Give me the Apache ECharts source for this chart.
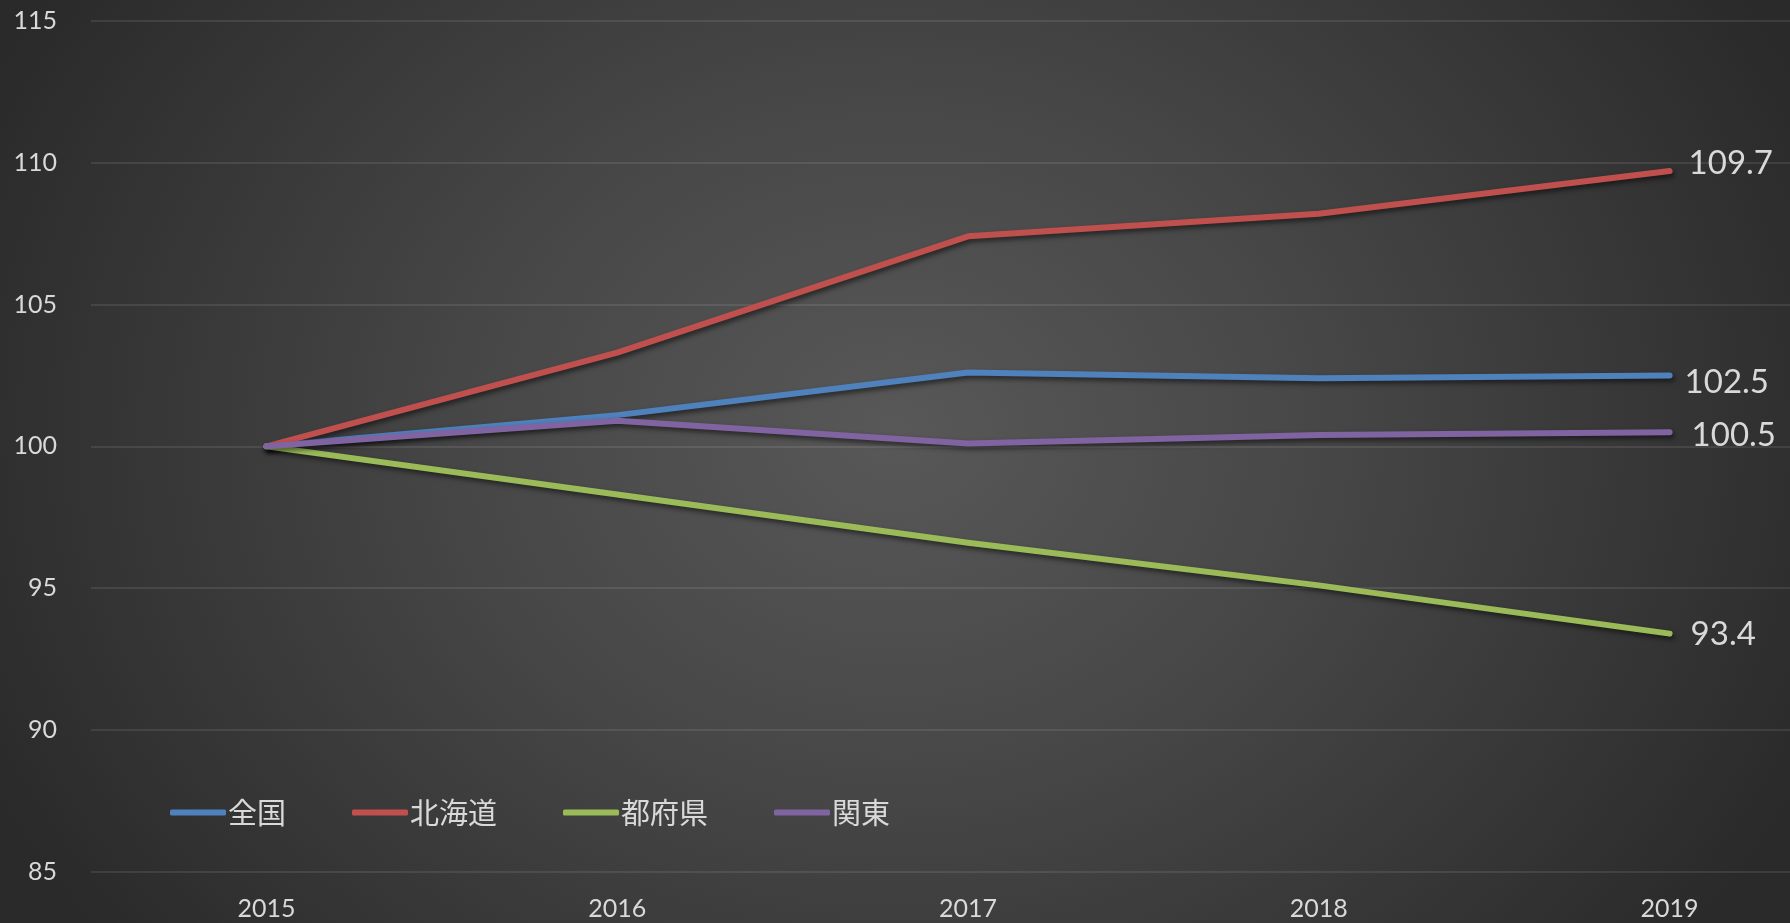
<!DOCTYPE html>
<html>
<head>
<meta charset="utf-8">
<script src="https://cdn.jsdelivr.net/npm/echarts@6/dist/echarts.min.js"></script>
<style>
html,body{margin:0;padding:0;width:1790px;height:923px;overflow:hidden;}
body{background:radial-gradient(ellipse 1000px 820px at 895px 434px, #585858 0%, #474747 42%, #2a2a2a 100%);}
#chart{width:1845px;height:923px;}
</style>
</head>
<body>
<div id="chart"></div>
<script>
var years = ['2015', '2016', '2017', '2018', '2019'];
var seriesNames = ['全国', '北海道', '都府県', '関東'];
var zenkoku = [100, 101.1, 102.6, 102.4, 102.5];
var hokkaido = [100, 103.3, 107.4, 108.2, 109.7];
var tofuken = [100, 98.3, 96.6, 95.1, 93.4];
var kanto = [100, 100.9, 100.1, 100.4, 100.5];
var yTicks = [85, 90, 95, 100, 105, 110, 115];

var colors = ['#4F81BD', '#C0504D', '#9BBB59', '#8064A2'];
var labelOffsets = [[-2, 7], [2, -8], [4, 1], [5, 3]];
var values = [zenkoku, hokkaido, tofuken, kanto];
var textColor = '#d9d9d9';
var numFont = 'Lato, "Open Sans", sans-serif';
var cjkFont = '"Noto Sans CJK JP", "Noto Sans", sans-serif';

var series = values.map(function (arr, si) {
  return {
    name: seriesNames[si],
    type: 'line',
    symbol: 'none',
    z: 2 + si,
    data: arr,
    endLabel: {
      show: true,
      distance: 17,
      offset: labelOffsets[si],
      color: textColor,
      fontSize: 33,
      fontFamily: numFont,
      formatter: function (p) { return Number(p.value).toFixed(1); }
    },
    lineStyle: {
      color: colors[si],
      width: 6,
      cap: 'round',
      join: 'round',
      shadowColor: 'rgba(0,0,0,0.55)',
      shadowBlur: 5,
      shadowOffsetX: 2,
      shadowOffsetY: 3
    },
    itemStyle: { color: colors[si] },
    emphasis: { disabled: true },
    animation: false
  };
});

var chart = echarts.init(document.getElementById('chart'), null, { renderer: 'canvas' });
chart.setOption({
  backgroundColor: 'transparent',
  animation: false,
  grid: { left: 91, right: 0, top: 20.7, bottom: 51, containLabel: false },
  legend: {
    data: seriesNames.map(function (n, i) {
      return { name: n, icon: 'roundRect', itemStyle: { color: colors[i] } };
    }),
    left: 165,
    top: 793,
    itemWidth: 56,
    itemHeight: 6,
    itemGap: 66,
    textStyle: { color: textColor, fontSize: 29, fontFamily: cjkFont, padding: [0, 0, 0, -3] }
  },
  xAxis: {
    type: 'category',
    data: years,
    boundaryGap: true,
    axisLine: { show: false },
    axisTick: { show: false },
    axisLabel: { color: textColor, fontSize: 25, fontFamily: numFont, margin: 24 },
    splitLine: { show: false }
  },
  yAxis: {
    type: 'value',
    min: yTicks[0],
    max: yTicks[yTicks.length - 1],
    interval: 5,
    axisLine: { show: false },
    axisTick: { show: false },
    axisLabel: { color: textColor, fontSize: 25, fontFamily: numFont, margin: 34 },
    splitLine: { show: true, lineStyle: { color: 'rgba(255,255,255,0.12)', width: 1.5 } }
  },
  series: series
});
</script>
</body>
</html>
